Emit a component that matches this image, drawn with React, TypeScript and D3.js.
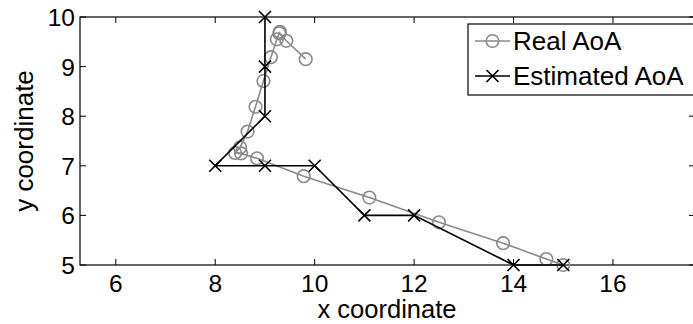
import { useEffect, useRef } from 'react';
import * as d3 from 'd3';

// Real AoA trajectory (grey circles)
const realX = [15.0, 14.66, 13.79, 12.5, 11.1, 9.78, 8.84, 8.52, 8.4, 8.5, 8.65, 8.81, 8.97, 9.12, 9.24, 9.3, 9.29, 9.43, 9.82];
const realY = [5.0, 5.12, 5.44, 5.86, 6.36, 6.79, 7.15, 7.25, 7.26, 7.37, 7.69, 8.19, 8.71, 9.19, 9.55, 9.7, 9.67, 9.52, 9.15];

// Estimated AoA trajectory (black crosses)
const estX = [15, 14, 12, 11, 10, 9, 8, 9, 9, 9];
const estY = [5, 5, 6, 6, 7, 7, 7, 8, 9, 10];

const xTicks = [6, 8, 10, 12, 14, 16];
const yTicks = [5, 6, 7, 8, 9, 10];
const seriesNames = ['Real AoA', 'Estimated AoA'];

const W = 693;
const H = 324;
const FONT = '"Liberation Sans", Arial, sans-serif';

export default function App() {
  const svgRef = useRef<SVGSVGElement | null>(null);

  useEffect(() => {
    if (!svgRef.current) return;
    const svg = d3.select(svgRef.current);
    svg.selectAll('*').remove();

    const left = 80;
    const right = 695;
    const top = 17;
    const bottom = 265;

    const x = d3.scaleLinear().domain([5.28, 17.65]).range([left, right]);
    const y = d3.scaleLinear().domain([5, 10]).range([bottom, top]);

    svg.append('rect').attr('width', W).attr('height', H).attr('fill', '#fff');

    // Ticks (inside, on all four sides)
    const tickLen = 6;
    xTicks.forEach((t) => {
      svg.append('line').attr('x1', x(t)).attr('x2', x(t)).attr('y1', bottom).attr('y2', bottom - tickLen).attr('stroke', '#000');
      svg.append('line').attr('x1', x(t)).attr('x2', x(t)).attr('y1', top).attr('y2', top + tickLen).attr('stroke', '#000');
      svg.append('text')
        .attr('x', x(t)).attr('y', 292)
        .attr('text-anchor', 'middle')
        .style('font-family', FONT).style('font-size', '24.5px')
        .text(String(t));
    });
    yTicks.forEach((t) => {
      svg.append('line').attr('x1', left).attr('x2', left + tickLen).attr('y1', y(t)).attr('y2', y(t)).attr('stroke', '#000');
      svg.append('line').attr('x1', right).attr('x2', right - tickLen).attr('y1', y(t)).attr('y2', y(t)).attr('stroke', '#000');
      svg.append('text')
        .attr('x', 75).attr('y', y(t) + 9)
        .attr('text-anchor', 'end')
        .style('font-family', FONT).style('font-size', '24.5px')
        .text(String(t));
    });

    // Axes box
    svg.append('rect')
      .attr('x', left).attr('y', top)
      .attr('width', right - left).attr('height', bottom - top)
      .attr('fill', 'none').attr('stroke', '#000').attr('stroke-width', 1.2);

    // Axis titles
    svg.append('text')
      .attr('x', 387).attr('y', 318)
      .attr('text-anchor', 'middle')
      .style('font-family', FONT).style('font-size', '25.5px')
      .text('x coordinate');
    svg.append('text')
      .attr('transform', `translate(33,${(top + bottom) / 2}) rotate(-90)`)
      .attr('text-anchor', 'middle')
      .style('font-family', FONT).style('font-size', '26px')
      .text('y coordinate');

    const grey = '#8a8a8a';
    const real = realX.map((v, i) => [v, realY[i]] as [number, number]);
    const est = estX.map((v, i) => [v, estY[i]] as [number, number]);
    const line = d3.line<[number, number]>().x((d) => x(d[0])).y((d) => y(d[1]));

    svg.append('path').datum(real).attr('d', line).attr('fill', 'none').attr('stroke', grey).attr('stroke-width', 1.6);
    svg.selectAll('.rc').data(real).enter().append('circle')
      .attr('cx', (d) => x(d[0])).attr('cy', (d) => y(d[1])).attr('r', 6.3)
      .attr('fill', 'none').attr('stroke', grey).attr('stroke-width', 1.6);

    svg.append('path').datum(est).attr('d', line).attr('fill', 'none').attr('stroke', '#000').attr('stroke-width', 1.6);
    const cross = (g: d3.Selection<SVGGElement, unknown, null, undefined>, cx: number, cy: number, s: number) => {
      g.append('path')
        .attr('d', `M${cx - s},${cy - s}L${cx + s},${cy + s}M${cx - s},${cy + s}L${cx + s},${cy - s}`)
        .attr('stroke', '#000').attr('stroke-width', 1.6).attr('fill', 'none');
    };
    const cg = svg.append('g');
    est.forEach((d) => cross(cg, x(d[0]), y(d[1]), 6));

    // Legend
    const lg = svg.append('g');
    lg.append('rect')
      .attr('x', 468).attr('y', 24).attr('width', 226).attr('height', 71)
      .attr('fill', '#fff').attr('stroke', '#000').attr('stroke-width', 1.2);
    seriesNames.forEach((name, i) => {
      const cy = 41 + i * 35;
      const col = i === 0 ? grey : '#000';
      lg.append('line').attr('x1', 475).attr('x2', 510).attr('y1', cy).attr('y2', cy).attr('stroke', col).attr('stroke-width', 1.6);
      if (i === 0) {
        lg.append('circle').attr('cx', 492.5).attr('cy', cy).attr('r', 6.3).attr('fill', 'none').attr('stroke', grey).attr('stroke-width', 1.6);
      } else {
        cross(lg, 492.5, cy, 6);
      }
      lg.append('text')
        .attr('x', 513).attr('y', cy + 9)
        .style('font-family', FONT).style('font-size', '26px')
        .text(name);
    });
  }, []);

  return (
    <div style={{ position: 'absolute', left: 0, top: 0, width: W, height: H, overflow: 'hidden' }}>
      <svg ref={svgRef} width={W} height={H} />
    </div>
  );
}
